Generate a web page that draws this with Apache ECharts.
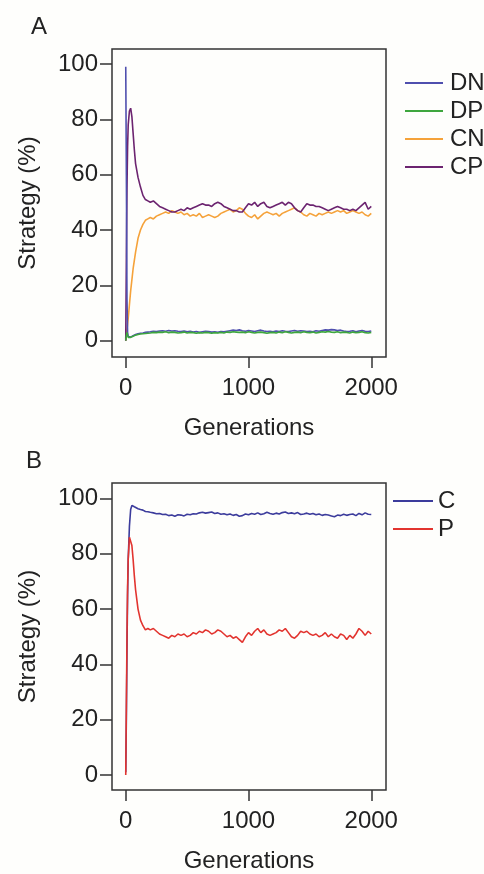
<!DOCTYPE html>
<html>
<head>
<meta charset="utf-8">
<title>Strategy over generations</title>
<script src="https://cdn.jsdelivr.net/npm/echarts@6/dist/echarts.min.js"></script>
<style>
  html, body { margin: 0; padding: 0; background: #fefefc; }
  #main { width: 484px; height: 874px; }
</style>
</head>
<body>
<div id="main"></div>
<script>
// generations sampled (dense at the start, then every 25)
var gensEarly = [0, 5, 10, 15, 20, 30, 40, 50, 60, 70, 80, 100, 120, 140, 160, 180];
var gensLate = [];
for (var g = 200; g <= 2000; g += 25) gensLate.push(g);
var gens = gensEarly.concat(gensLate);

// panel A
var dn = [99, 60, 15, 3, 1.5, 1.2, 1.3, 1.5, 1.8, 2, 2.2, 2.5, 2.7, 2.8, 3, 3.1,
  3.2, 3.4, 3.3, 3.5, 3.6, 3.4, 3.7, 3.5, 3.6, 3.4,
  3.3, 3.5, 3.2, 3.4, 3.1, 3.3, 3.0, 3.2, 3.4, 3.3,
  3.1, 3.2, 3.0, 3.3, 3.2, 3.4, 3.6, 3.8, 3.7, 3.9,
  3.6, 3.4, 3.7, 3.5, 3.3, 3.6, 3.8, 3.5, 3.3, 3.4,
  3.2, 3.5, 3.3, 3.6, 3.4, 3.3, 3.5, 3.7, 3.4, 3.6,
  3.5, 3.3, 3.4, 3.2, 3.6, 3.4, 3.7, 3.9, 3.8, 4.0,
  3.9, 3.7, 3.8, 3.5, 3.3, 3.4, 3.6, 3.2, 3.5, 3.7,
  3.4, 3.3, 3.5];
var dp = [0, 2, 3, 2, 1.2, 1, 1.2, 1.4, 1.6, 1.8, 2, 2.2, 2.4, 2.5, 2.6, 2.7,
  2.8, 3.0, 2.9, 3.1, 3.0, 3.2, 2.9, 3.1, 3.0, 2.8,
  2.9, 3.1, 2.8, 3.0, 2.9, 2.7, 2.9, 2.8, 3.0, 2.9,
  2.7, 2.9, 2.8, 3.0, 2.8, 3.1, 3.0, 3.2, 3.1, 3.0,
  3.1, 2.9, 3.2, 3.0, 2.8, 3.0, 3.1, 2.9, 2.7, 2.9,
  3.0, 2.8, 3.1, 2.9, 3.2, 3.0, 2.8, 3.0, 3.1, 2.9,
  3.2, 3.0, 2.9, 3.1, 2.8, 3.0, 3.2, 3.1, 3.3, 3.1,
  3.0, 3.2, 2.9, 3.1, 3.0, 2.8, 3.1, 2.9, 3.0, 3.2,
  2.9, 2.8, 3.0];
var cn = [0, 2, 4, 6, 8, 13, 18, 22, 26, 29, 32, 37, 40, 42, 43.5, 44,
  44.5, 44, 45, 45.5, 46, 46.5, 46, 47, 46.5, 46,
  46.5, 45.5, 46, 45, 45.5, 45, 46, 44.5, 45, 45.5,
  45, 44.5, 45, 46, 46.5, 47, 47.5, 46.5, 47, 48,
  47.5, 46, 45, 44.5, 45.5, 44, 45, 46, 46.5, 46,
  45.5, 46, 45, 46, 46.5, 47, 47.5, 48, 47, 46.5,
  45.5, 45, 46, 45.5, 45, 46, 45.5, 46, 46.5, 46,
  46.5, 47, 46.5, 47, 46, 46.5, 47, 46.5, 46, 46.5,
  45.5, 45, 46];
var cp = [0, 30, 55, 70, 78, 83, 84, 81, 75, 69, 64, 59, 55.5, 52.5, 51, 50.5,
  50, 50.5, 49.5, 48.5, 48, 47.5, 47, 46.5, 46.5, 47,
  47.5, 47, 48, 47.5, 48, 48.5, 49, 49.5, 49, 49,
  48.5, 49.5, 50, 49.5, 48.5, 48, 47.5, 47, 47, 46.5,
  46.5, 48, 49.5, 49, 50, 48.5, 49.5, 50, 48.5, 48,
  48.5, 49, 49.5, 50, 49, 50, 49.5, 48, 47, 46.5,
  48, 49.5, 49, 49, 48.5, 48.5, 48, 47.5, 47, 47.5,
  48, 48.5, 48, 47.5, 47.5, 47, 47.5, 47, 48, 49,
  50, 47.5, 48.5];

// panel B
var cc = [1, 20, 45, 65, 78, 90, 96, 97.5, 97.3, 97, 96.8, 96.3, 96, 95.8, 95.3, 95.2,
  95, 94.8, 94.5, 94.6, 94.2, 94.3, 93.8, 94, 93.6, 94.1,
  94, 93.7, 94.3, 94.1, 94.5, 94.4, 94.8, 95, 94.7, 94.9,
  95.1, 94.6, 94.8, 94.3, 94.5, 94.1, 94.4, 93.9, 94.2, 93.6,
  93.8, 94.4, 94.1, 94.6, 94.3, 94.8, 94.2, 94.5, 95, 94.6,
  94.3, 94.7, 94.4, 94.9, 95.1, 94.6, 94.8, 94.5, 94.9, 94.2,
  94.4, 94.7, 94.3, 94.6, 94.1, 94.4, 93.9, 94.2, 94, 93.7,
  93.4, 94, 93.8, 94.3, 93.9, 94.2, 94.4, 93.8, 94.6, 94.1,
  94.8, 94.3, 94.2];
var pp = [0, 25, 50, 68, 78, 86, 86.5, 83, 78, 72, 67, 60, 56, 54, 52.5, 53,
  52.5, 53, 52, 51, 50.5, 50, 49.5, 50.5, 50, 51,
  50.5, 51, 50, 50.5, 51.5, 51, 52, 51.5, 52.5, 52,
  51, 51.5, 52.5, 52, 51, 50, 50.5, 49.5, 50, 49,
  48, 50, 51.5, 50.5, 52, 53, 51.5, 52.5, 51, 50.5,
  51, 51.5, 52.5, 52, 53, 51.5, 50, 49.5, 50.5, 52,
  51.5, 52, 51, 50.5, 51, 50, 50.5, 51.5, 50, 51,
  50, 49.5, 51, 50.5, 49, 50.5, 49.5, 51, 53, 52,
  50.5, 52, 51];

var yTicks = [0, 20, 40, 60, 80, 100];
var xTicks = [0, 1000, 2000];

function pairs(vals) {
  return gens.map(function (x, i) { return [x, vals[i]]; });
}

var font = 'Liberation Sans, Arial, sans-serif';
var ink = '#222';
var fs = 24;

function xAxis(idx) {
  return {
    type: 'value', gridIndex: idx, min: -112, max: 2120,
    name: 'Generations', nameLocation: 'middle', nameGap: 59,
    nameTextStyle: { fontSize: fs, color: ink, fontFamily: font },
    axisLine: { show: false, onZero: false },
    splitLine: { show: false },
    axisTick: { show: true, length: 11, customValues: xTicks, lineStyle: { color: '#333', width: 1.5 } },
    axisLabel: { customValues: xTicks, fontSize: fs, color: ink, fontFamily: font, margin: 19,
      formatter: function (v) { return String(v); } }
  };
}
function yAxis(idx, lo, hi) {
  return {
    type: 'value', gridIndex: idx, min: lo, max: hi,
    name: 'Strategy (%)', nameLocation: 'middle', nameGap: 72,
    nameTextStyle: { fontSize: fs, color: ink, fontFamily: font },
    axisLine: { show: false, onZero: false },
    splitLine: { show: false },
    axisTick: { show: true, length: 12, customValues: yTicks, lineStyle: { color: '#333', width: 1.5 } },
    axisLabel: { customValues: yTicks, fontSize: fs, color: ink, fontFamily: font, margin: 14,
      formatter: function (v) { return String(v); } }
  };
}
function line(name, vals, color, gi) {
  return {
    name: name, type: 'line', xAxisIndex: gi, yAxisIndex: gi,
    data: pairs(vals), symbol: 'none', animation: false,
    lineStyle: { color: color, width: 1.6 }, itemStyle: { color: color }
  };
}

var chart = echarts.init(document.getElementById('main'));
chart.setOption({
  backgroundColor: '#fefefc',
  animation: false,
  title: [
    { text: 'A', left: 26, top: 10, textStyle: { fontSize: fs, fontWeight: 'normal', color: ink, fontFamily: font } },
    { text: 'B', left: 21, top: 444, textStyle: { fontSize: fs, fontWeight: 'normal', color: ink, fontFamily: font } }
  ],
  grid: [
    { left: 112, top: 49, width: 274, height: 308, show: true, borderColor: '#333', borderWidth: 1.5, backgroundColor: 'transparent' },
    { left: 112, top: 483, width: 274, height: 308, show: true, borderColor: '#333', borderWidth: 1.5, backgroundColor: 'transparent' }
  ],
  legend: [
    {
      data: ['DN', 'DP', 'CN', 'CP'], orient: 'vertical', left: 400, top: 66,
      itemWidth: 38, itemHeight: 2, itemGap: 4, icon: 'rect',
      textStyle: { fontSize: fs, color: ink, fontFamily: font, padding: [0, 0, 0, 2] }
    },
    {
      data: ['C', 'P'], orient: 'vertical', left: 388, top: 484,
      itemWidth: 40, itemHeight: 2, itemGap: 4, icon: 'rect',
      textStyle: { fontSize: fs, color: ink, fontFamily: font, padding: [0, 0, 0, 0] }
    }
  ],
  xAxis: [xAxis(0), xAxis(1)],
  yAxis: [yAxis(0, -5.9, 105.4), yAxis(1, -5.4, 105.6)],
  series: [
    line('CN', cn, '#f5a23a', 0),
    line('CP', cp, '#6c2470', 0),
    line('DN', dn, '#4f4fae', 0),
    line('DP', dp, '#3ea63e', 0),
    line('C', cc, '#3c3c9c', 1),
    line('P', pp, '#e2342f', 1)
  ]
});
</script>
</body>
</html>
